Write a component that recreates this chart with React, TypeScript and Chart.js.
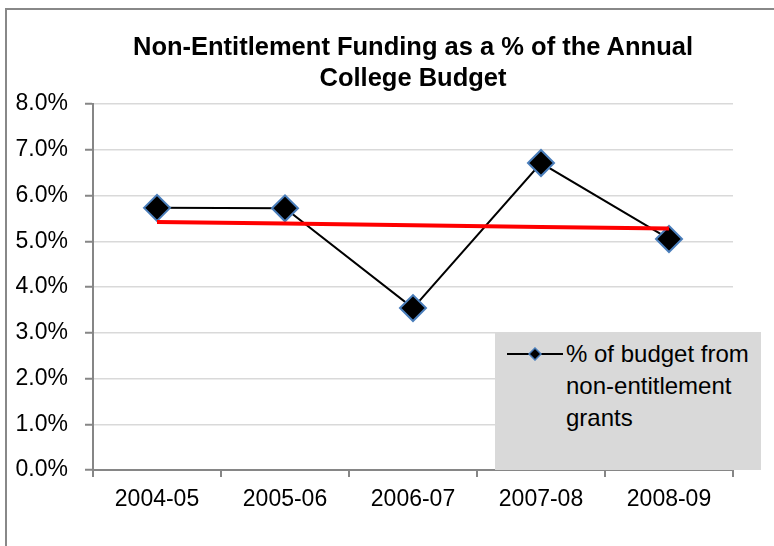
import React, { useEffect, useRef } from "react";
import { Chart, registerables } from "chart.js";

Chart.register(...registerables);

const categories = ["2004-05", "2005-06", "2006-07", "2007-08", "2008-09"];
const budgetShare = [5.73, 5.72, 3.54, 6.71, 5.05];
const trendShare = [5.42, 5.39, 5.35, 5.31, 5.28];
const titleLines = ["Non-Entitlement Funding as a % of the Annual", "College Budget"];
const legendLines = ["% of budget from", "non-entitlement", "grants"];
const yMin = 0;
const yMax = 8;
const yStep = 1;

const FONT = "'Liberation Sans', Arial, sans-serif";

export default function App() {
  const canvasRef = useRef<HTMLCanvasElement | null>(null);

  useEffect(() => {
    const canvas = canvasRef.current;
    if (!canvas) return;
    const chart = new Chart(canvas, {
      type: "line",
      data: {
        labels: categories,
        datasets: [
          {
            label: "Linear trend",
            data: trendShare,
            borderColor: "#ff0000",
            backgroundColor: "#ff0000",
            borderWidth: 4,
            pointRadius: 0,
            pointHoverRadius: 0,
            fill: false,
            tension: 0,
          },
          {
            label: legendLines.join(" "),
            data: budgetShare,
            borderColor: "#000000",
            backgroundColor: "#000000",
            borderWidth: 2,
            pointStyle: "rectRot",
            pointRadius: 13,
            pointHoverRadius: 13,
            pointBackgroundColor: "#000000",
            pointBorderColor: "#4a7ebb",
            pointBorderWidth: 2,
            fill: false,
            tension: 0,
          },
        ],
      },
      options: {
        animation: false,
        responsive: false,
        devicePixelRatio: 1,
        layout: { padding: { top: 104, right: 41, bottom: 0, left: 0 } },
        plugins: {
          legend: { display: false },
          title: { display: false },
          tooltip: { enabled: false },
        },
        scales: {
          x: {
            type: "category",
            offset: true,
            grid: {
              offset: true,
              drawOnChartArea: false,
              drawTicks: true,
              tickLength: 7,
              color: "#868686",
              lineWidth: 2,
            },
            border: { color: "#868686", width: 2 },
            ticks: {
              color: "#000000",
              font: { family: FONT, size: 23 },
              padding: 9,
              maxRotation: 0,
              autoSkip: false,
            },
            afterFit: (s: any) => {
              s.height = 76;
            },
          },
          y: {
            min: yMin,
            max: yMax,
            ticks: {
              stepSize: yStep,
              color: "#000000",
              font: { family: FONT, size: 23 },
              padding: 17,
              callback: (v: any) => Number(v).toFixed(1) + "%",
            },
            grid: {
              color: "#d9d9d9",
              lineWidth: 1.5,
              tickLength: 8,
              tickColor: "#868686",
              tickWidth: 2,
            },
            border: { color: "#868686", width: 2 },
            afterFit: (s: any) => {
              s.width = 93;
            },
          },
        },
      },
    });
    return () => chart.destroy();
  }, []);

  return (
    <div style={{ position: "fixed", left: 0, top: 0, width: 774, height: 546, background: "#fff", overflow: "hidden" }}>
      <div
        style={{
          position: "absolute",
          left: 5,
          top: 8,
          width: 800,
          height: 600,
          borderLeft: "2px solid #888888",
          borderTop: "2px solid #888888",
        }}
      />
      <canvas ref={canvasRef} width={774} height={546} style={{ position: "absolute", left: 0, top: 0, width: 774, height: 546 }} />
      <div
        style={{
          position: "absolute",
          left: 73,
          top: 31,
          width: 680,
          textAlign: "center",
          fontFamily: FONT,
          fontWeight: "bold",
          fontSize: 25.5,
          lineHeight: "31px",
          color: "#000",
        }}
      >
        {titleLines.map((t, i) => (
          <div key={i} style={{ whiteSpace: "nowrap" }}>{t}</div>
        ))}
      </div>
      <div
        style={{
          position: "absolute",
          left: 495,
          top: 332,
          width: 266,
          height: 138,
          background: "#d9d9d9",
          boxSizing: "border-box",
          paddingLeft: 71,
          paddingTop: 6,
          fontFamily: FONT,
          fontSize: 24,
          lineHeight: "32px",
          color: "#000",
        }}
      >
        <svg width={56} height={14} style={{ position: "absolute", left: 12, top: 15 }}>
          <line x1={0} y1={7} x2={56} y2={7} stroke="#000" strokeWidth={2} />
          <polygon points="28,1 34,7 28,13 22,7" fill="#000" stroke="#4a7ebb" strokeWidth={1.5} />
        </svg>
        {legendLines.map((t, i) => (
          <div key={i} style={{ whiteSpace: "nowrap" }}>{t}</div>
        ))}
      </div>
    </div>
  );
}
